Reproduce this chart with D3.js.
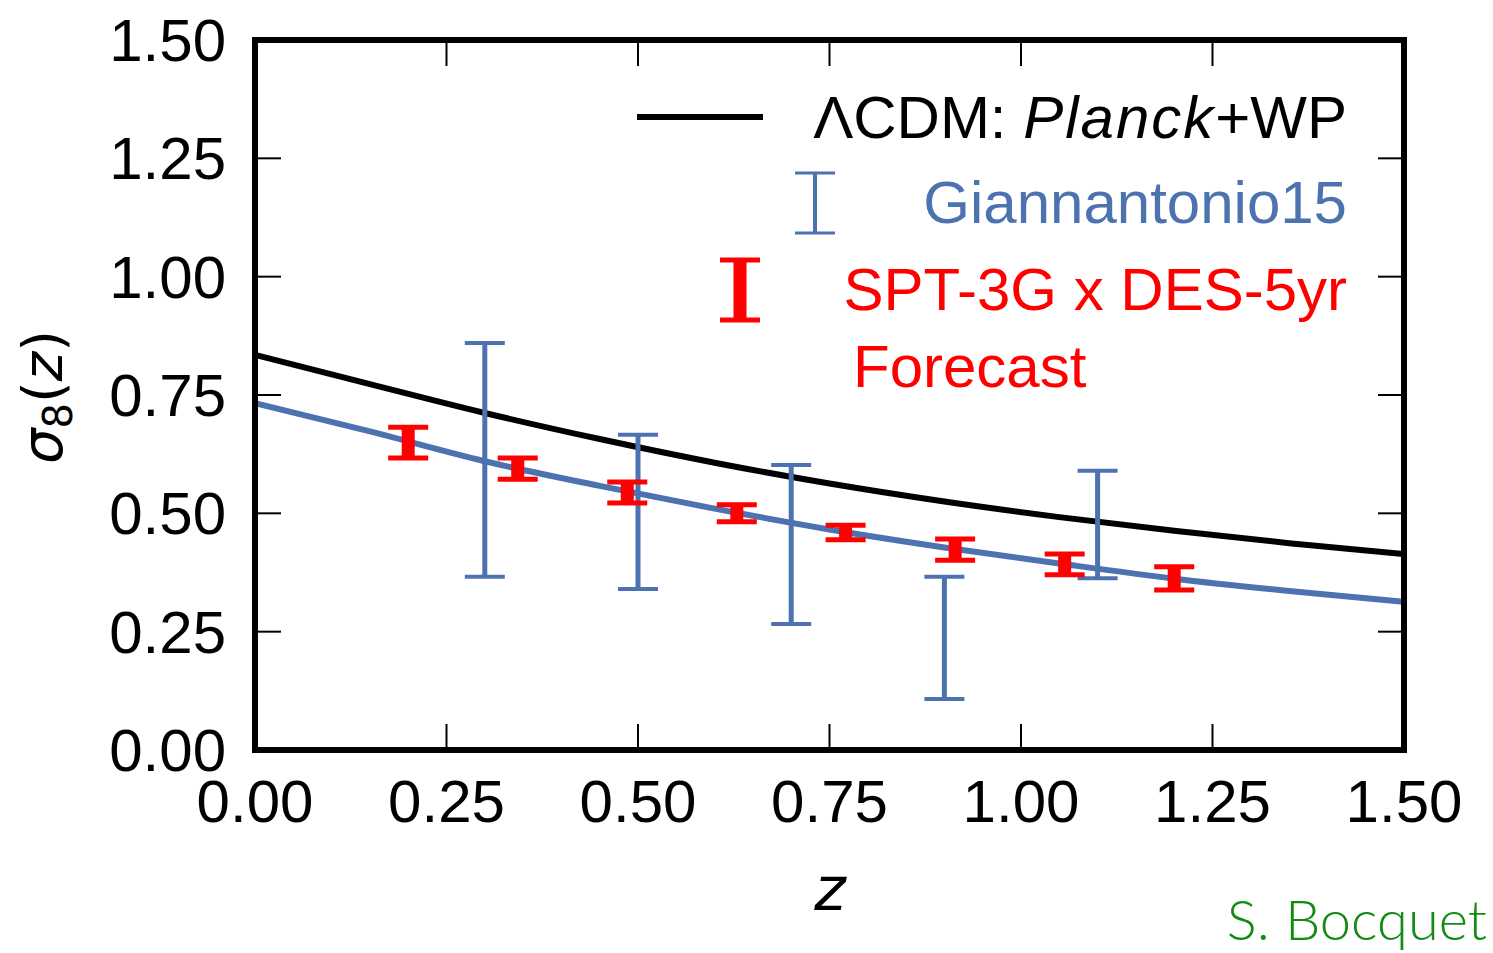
<!DOCTYPE html>
<html>
<head>
<meta charset="utf-8">
<script src="https://cdn.jsdelivr.net/npm/d3@7"></script>
<style>
  html, body { margin: 0; padding: 0; background: #fff; }
  svg { display: block; font-family: "Liberation Sans", Arial, Helvetica, sans-serif; }
</style>
</head>
<body>
<svg id="chart" width="1493" height="953"></svg>
<script>
// Redshift grid for the smooth sigma_8(z) curves
const zGrid = [0, 0.15, 0.3, 0.45, 0.6, 0.75, 0.9, 1.05, 1.2, 1.35, 1.5];
// LambdaCDM prediction from Planck+WP
const sigmaLCDM = [0.835, 0.773, 0.712, 0.657, 0.607, 0.563, 0.525, 0.492, 0.463, 0.437, 0.414];
// Best-fit curve through the Giannantonio15 measurements
const sigmaFit = [0.733, 0.673, 0.610, 0.558, 0.510, 0.466, 0.428, 0.394, 0.362, 0.336, 0.313];

// Giannantonio15 measurements (lower / upper bounds)
const giannZ  = [0.3, 0.5, 0.7, 0.9, 1.1];
const giannLo = [0.366, 0.340, 0.266, 0.108, 0.363];
const giannHi = [0.860, 0.666, 0.602, 0.366, 0.590];

// SPT-3G x DES-5yr forecast (lower / upper bounds)
const sptZ  = [0.2, 0.343, 0.486, 0.629, 0.771, 0.914, 1.057, 1.2];
const sptLo = [0.617, 0.572, 0.522, 0.482, 0.444, 0.401, 0.370, 0.338];
const sptHi = [0.682, 0.617, 0.566, 0.518, 0.475, 0.446, 0.414, 0.387];

// Axis ticks
const xTicks = [0, 0.25, 0.5, 0.75, 1.0, 1.25, 1.5];
const yTicks = [0, 0.25, 0.5, 0.75, 1.0, 1.25, 1.5];

const blue = "#4c72b0";
const red = "#ff0000";

const svg = d3.select("#chart");
const L = 255, R = 1404, T = 40, B = 750;

const x = d3.scaleLinear().domain([0, 1.5]).range([L, R]);
const y = d3.scaleLinear().domain([0, 1.5]).range([B, T]);

svg.append("defs").append("clipPath").attr("id", "plotclip")
  .append("rect").attr("x", L).attr("y", T).attr("width", R - L).attr("height", B - T);

const plot = svg.append("g").attr("clip-path", "url(#plotclip)");

const line = d3.line().x(d => x(d[0])).y(d => y(d[1])).curve(d3.curveMonotoneX);

// Curves
plot.append("path")
  .datum(zGrid.map((z, i) => [z, sigmaFit[i]]))
  .attr("d", line).attr("fill", "none").attr("stroke", blue).attr("stroke-width", 6);
plot.append("path")
  .datum(zGrid.map((z, i) => [z, sigmaLCDM[i]]))
  .attr("d", line).attr("fill", "none").attr("stroke", "#000").attr("stroke-width", 6);

// Error bars
function errorBars(g, zs, lo, hi, color, stemW, capW, capH) {
  const eb = g.append("g");
  zs.forEach((z, i) => {
    const cx = x(z);
    eb.append("line").attr("x1", cx).attr("x2", cx)
      .attr("y1", y(lo[i])).attr("y2", y(hi[i]))
      .attr("stroke", color).attr("stroke-width", stemW);
    [lo[i], hi[i]].forEach(v => {
      eb.append("line").attr("x1", cx - capW / 2).attr("x2", cx + capW / 2)
        .attr("y1", y(v)).attr("y2", y(v))
        .attr("stroke", color).attr("stroke-width", capH);
    });
  });
}
errorBars(plot, giannZ, giannLo, giannHi, blue, 5, 40, 4);
errorBars(plot, sptZ, sptLo, sptHi, red, 13, 40, 5);

// Ticks on all four sides, pointing inward
const axes = svg.append("g");
const tickLen = 26;
xTicks.forEach(t => {
  axes.append("line").attr("x1", x(t)).attr("x2", x(t)).attr("y1", B).attr("y2", B - tickLen)
    .attr("stroke", "#000").attr("stroke-width", 2);
  axes.append("line").attr("x1", x(t)).attr("x2", x(t)).attr("y1", T).attr("y2", T + tickLen)
    .attr("stroke", "#000").attr("stroke-width", 2);
  axes.append("text").attr("x", x(t)).attr("y", 822)
    .attr("text-anchor", "middle").attr("font-size", 60).attr("fill", "#000")
    .text(d3.format(".2f")(t));
});
yTicks.forEach(t => {
  axes.append("line").attr("x1", L).attr("x2", L + tickLen).attr("y1", y(t)).attr("y2", y(t))
    .attr("stroke", "#000").attr("stroke-width", 2);
  axes.append("line").attr("x1", R).attr("x2", R - tickLen).attr("y1", y(t)).attr("y2", y(t))
    .attr("stroke", "#000").attr("stroke-width", 2);
  axes.append("text").attr("x", 226).attr("y", y(t) + 21)
    .attr("text-anchor", "end").attr("font-size", 60).attr("fill", "#000")
    .text(d3.format(".2f")(t));
});

// Frame
svg.append("rect").attr("x", L).attr("y", T).attr("width", R - L).attr("height", B - T)
  .attr("fill", "none").attr("stroke", "#000").attr("stroke-width", 6);

// Axis labels
svg.append("text").attr("x", 830).attr("y", 910).attr("text-anchor", "middle")
  .attr("font-size", 60).style("font-style", "italic")
  .style("font-family", "'DejaVu Sans', sans-serif").text("z");

const yl = svg.append("text").attr("transform", "translate(62,397) rotate(-90)")
  .attr("text-anchor", "middle").attr("font-size", 56)
  .style("font-family", "'DejaVu Sans', sans-serif");
yl.append("tspan").style("font-style", "italic").text("σ");
yl.append("tspan").attr("font-size", 40).attr("dy", 10).text("8");
yl.append("tspan").attr("dy", -10).text("(");
yl.append("tspan").style("font-style", "italic").text("z");
yl.append("tspan").text(")");

// Legend
const leg = svg.append("g");
leg.append("line").attr("x1", 637).attr("x2", 763).attr("y1", 117).attr("y2", 117)
  .attr("stroke", "#000").attr("stroke-width", 6);
const t1 = leg.append("text").attr("x", 1347).attr("y", 138).attr("text-anchor", "end")
  .attr("font-size", 60).attr("fill", "#000");
t1.append("tspan").text("ΛCDM: ");
t1.append("tspan").style("font-style", "italic").attr("letter-spacing", 2).text("Planck");
t1.append("tspan").text("+WP");

// Legend marker for Giannantonio15
const gx = 815;
leg.append("line").attr("x1", gx).attr("x2", gx).attr("y1", 173).attr("y2", 233)
  .attr("stroke", blue).attr("stroke-width", 4);
[173, 233].forEach(v => leg.append("line").attr("x1", gx - 20).attr("x2", gx + 20)
  .attr("y1", v).attr("y2", v).attr("stroke", blue).attr("stroke-width", 3));
leg.append("text").attr("x", 1347).attr("y", 223).attr("text-anchor", "end")
  .attr("font-size", 60).attr("fill", blue).text("Giannantonio15");

// Legend marker for the forecast
const rx = 740;
leg.append("line").attr("x1", rx).attr("x2", rx).attr("y1", 260).attr("y2", 320)
  .attr("stroke", red).attr("stroke-width", 13);
[260, 320].forEach(v => leg.append("line").attr("x1", rx - 20).attr("x2", rx + 20)
  .attr("y1", v).attr("y2", v).attr("stroke", red).attr("stroke-width", 5));
leg.append("text").attr("x", 1347).attr("y", 310).attr("text-anchor", "end")
  .attr("font-size", 60).attr("fill", red).text("SPT-3G x DES-5yr");
leg.append("text").attr("x", 853).attr("y", 387).attr("text-anchor", "start")
  .attr("font-size", 60).attr("fill", red).text("Forecast");

// Credit
svg.append("text").attr("x", 1487).attr("y", 940).attr("text-anchor", "end")
  .style("font-family", "Lato, 'Noto Sans', sans-serif").style("font-weight", 300)
  .attr("font-size", 56).attr("fill", "#138a12").text("S. Bocquet");
</script>
</body>
</html>
